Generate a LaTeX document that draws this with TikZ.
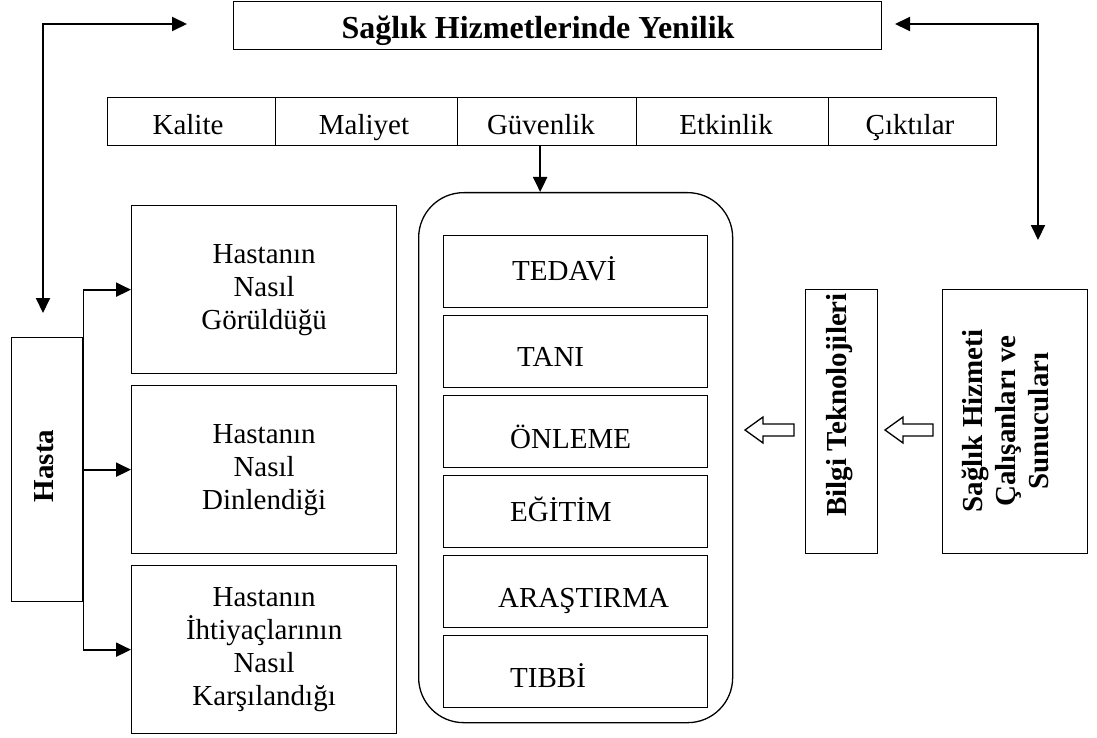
\documentclass[tikz,border=0pt]{standalone}
\usepackage{fontspec}
\setmainfont{Liberation Serif}
\usetikzlibrary{arrows.meta}
\newcommand\fsz{\fontsize{29}{33}\selectfont}
\begin{document}
\begin{tikzpicture}[x=1pt,y=-1pt,
  every node/.style={font=\fsz},
  box/.style={draw, line width=1.3pt, inner sep=0pt, anchor=north west},
  arr/.style={line width=2pt, -{Triangle[length=15pt,width=14pt]}},
  dblarr/.style={line width=2pt, {Triangle[length=15pt,width=14pt]}-{Triangle[length=15pt,width=14pt]}},
  hollow/.style={draw, line width=1.3pt, fill=white, line join=miter},
  lbl/.style={inner sep=0pt, anchor=base},
  lblw/.style={inner sep=0pt, anchor=base west}]
\useasboundingbox (0,0) rectangle (1097,738);

% title
\node[box, minimum width=648pt, minimum height=48pt] (title) at (233,1) {};
\node[lbl, font=\fontsize{32}{36}\selectfont\bfseries] at (538,39) {Sağlık Hizmetlerinde Yenilik};

% table row
\node[box, minimum width=168pt, minimum height=48pt] (kal) at (107,97) {};
\node[box, minimum width=182pt, minimum height=48pt] (mal) at (275,97) {};
\node[box, minimum width=179pt, minimum height=48pt] (guv) at (457,97) {};
\node[box, minimum width=192pt, minimum height=48pt] (etk) at (636,97) {};
\node[box, minimum width=168pt, minimum height=48pt] (cik) at (828,97) {};
\node[lbl] at (188,135) {Kalite};
\node[lbl] at (364,135) {Maliyet};
\node[lbl] at (541,135) {Güvenlik};
\node[lbl] at (726,135) {Etkinlik};
\node[lbl] at (910,135) {Çıktılar};

% central rounded box
\node[box, rounded corners=45pt, minimum width=314pt, minimum height=530pt] (ring) at (418,192) {};
\node[box, minimum width=264pt, minimum height=72pt] (t1) at (443,235) {};
\node[box, minimum width=264pt, minimum height=72pt] (t2) at (443,315) {};
\node[box, minimum width=264pt, minimum height=72pt] (t3) at (443,395) {};
\node[box, minimum width=264pt, minimum height=72pt] (t4) at (443,475) {};
\node[box, minimum width=264pt, minimum height=72pt] (t5) at (443,555) {};
\node[box, minimum width=264pt, minimum height=72pt] (t6) at (443,635) {};
\node[lblw] at (512,280) {TEDAVİ};
\node[lblw] at (517,366) {TANI};
\node[lblw] at (510,448) {ÖNLEME};
\node[lblw] at (510,521) {EĞİTİM};
\node[lblw] at (498,607) {ARAŞTIRMA};
\node[lblw] at (510,687) {TIBBİ};

% left side
\node[box, minimum width=71pt, minimum height=264pt] (hasta) at (11,337) {};
\node[rotate=90, inner sep=0pt, font=\fsz\bfseries] at (44,466) {Hasta};
\node[box, minimum width=265pt, minimum height=168pt, align=center] (g1) at (131,205) {Hastanın\\Nasıl\\Görüldüğü};
\node[box, minimum width=265pt, minimum height=168pt, align=center] (g2) at (131,385) {Hastanın\\Nasıl\\Dinlendiği};
\node[box, minimum width=265pt, minimum height=168pt, align=center] (g3) at (131,565) {Hastanın\\İhtiyaçlarının\\Nasıl\\Karşılandığı};

% right side
\node[box, minimum width=72pt, minimum height=264pt] (bilgi) at (805,289) {};
\node[rotate=90, inner sep=0pt, font=\fsz\bfseries] at (840,405) {Bilgi Teknolojileri};
\node[box, minimum width=145pt, minimum height=264pt] (sag) at (942,289) {};
\node[rotate=90, inner sep=0pt, align=center, font=\fontsize{29}{33}\selectfont\bfseries] at (1005,421) {Sağlık Hizmeti\\Çalışanları ve\\Sunucuları};

% connectors
\coordinate (lt) at (187,24);
\coordinate (lb) at (43,313);
\coordinate (rt) at (895,24);
\coordinate (rb) at (1038,240);
\draw[dblarr] (lb) |- (lt);
\draw[dblarr] (rb) |- (rt);
\draw[arr] ([xshift=-7pt]guv.south) -- ([xshift=-7pt]guv.south |- ring.north);

\draw[line width=1.3pt] (hasta.north east |- g1.west) -- (hasta.north east |- g3.west);
\draw[arr] (hasta.north east |- g1.west) -- (g1.west);
\draw[arr] (hasta.north east |- g2.west) -- (g2.west);
\draw[arr] (hasta.north east |- g3.west) -- (g3.west);

% hollow arrows
\draw[hollow] (745,430) -- (763,417) -- (763,424) -- (794,424) -- (794,436) -- (763,436) -- (763,443) -- cycle;
\draw[hollow] (885,430) -- (903,417) -- (903,424) -- (933,424) -- (933,436) -- (903,436) -- (903,443) -- cycle;
\end{tikzpicture}
\end{document}
